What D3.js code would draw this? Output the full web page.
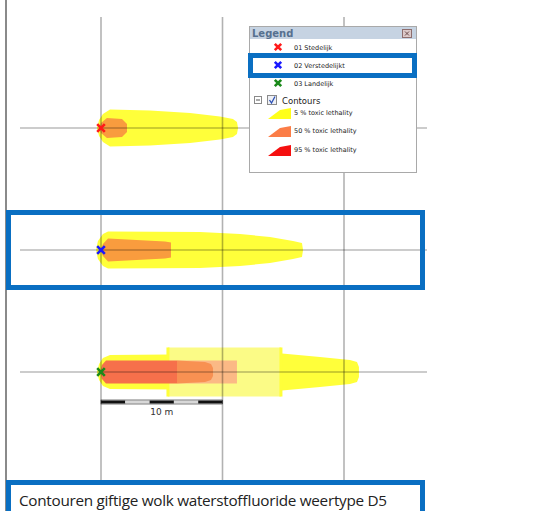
<!DOCTYPE html>
<html><head><meta charset="utf-8">
<script src="https://cdn.jsdelivr.net/npm/d3@7"></script>
<style>
html,body{margin:0;padding:0;background:#fff;}
svg{display:block;}
</style></head>
<body>
<svg id="c" width="555" height="511"></svg>
<script>
// ---------------- DATA ----------------
const categories = ["01 Stedelijk", "02 Verstedelijkt", "03 Landelijk"];
const levels = ["5 % toxic lethality", "50 % toxic lethality", "95 % toxic lethality"];
const gridDistances = [0, 10, 20];              // m
const scaleBarStops = [0, 2, 4, 6, 8, 10];       // m
const scaleBarLabel = "10 m";
const legendTitle = "Legend";
const contoursLabel = "Contours";
const caption = "Contouren giftige wolk waterstoffluoride weertype D5";

// contour profiles: [distance downwind (m), half width (m)]
const stedelijk5  = [[-0.33,0],[-0.16,0.66],[0.16,1.15],[0.74,1.52],[4.03,1.44],[7.33,1.23],[9.79,0.95],[10.86,0.74],[11.19,0.49],[11.28,0]];
const stedelijk50 = [[-0.12,0],[0,0.41],[0.49,0.82],[1.73,0.74],[2.14,0.33],[2.14,0]];
const verst5  = [[-0.41,0],[-0.25,0.74],[0.16,1.32],[0.58,1.52],[8.15,1.48],[11.44,1.32],[13.91,1.07],[15.8,0.74],[16.54,0.58],[16.63,0]];
const verst50 = [[-0.04,0],[0.16,0.49],[0.58,0.95],[5.27,0.70],[5.76,0.62],[5.76,0]];
const land5    = [[-0.33,0],[-0.16,0.66],[0.16,1.15],[0.74,1.40],[5.68,1.44],[14.9,1.52],[18.02,1.23],[20.49,0.99],[21.07,0.82],[21.23,0.41],[21.23,0]];
const land5b   = [[5.51,2.02],[14.81,2.02]];
const land95   = [[-0.04,0],[0.08,0.58],[0.41,0.95],[6.26,0.95],[6.26,0]];
const land50b  = [[6.26,0.95],[11.19,0.95]];
const land50   = [[6.26,0.95],[8.56,0.82],[9.05,0.66],[9.22,0.33],[9.22,0]];

// ---------------- STYLE ----------------
const markerColors = ["#ff1a1a", "#1a1aff", "#1a8a1a"];
const levelColors = ["#ffff1a", "#fb7d47", "#f50f0f"];

const svg = d3.select("#c");
const x = d3.scaleLinear().domain([0, 20]).range([101, 344]);
const w = d3.scaleLinear().domain([0, 10]).range([0, 121.5]);
const y = d3.scalePoint().domain(categories).range([128, 372]);

function profilePath(pts, cy) {
  const top = pts.map(p => [x(p[0]), cy - w(p[1])]);
  const bot = pts.slice().reverse().map(p => [x(p[0]), cy + w(p[1])]);
  return d3.line()(top.concat(bot)) + "Z";
}
function rectPath(pts, cy) {
  const x0 = x(pts[0][0]), x1 = x(pts[1][0]), h = w(pts[0][1]);
  return `M${x0},${cy-h}H${x1}V${cy+h}H${x0}Z`;
}

const shapes = svg.append("g");
// row 1
shapes.append("path").attr("d", profilePath(stedelijk5, y(categories[0]))).attr("fill", "#ffff3a");
shapes.append("path").attr("d", profilePath(stedelijk50, y(categories[0]))).attr("fill", "#f99c3e");
// row 2
shapes.append("path").attr("d", profilePath(verst5, y(categories[1]))).attr("fill", "#ffff3a");
shapes.append("path").attr("d", profilePath(verst50, y(categories[1]))).attr("fill", "#f99c3e");
// row 3
const cy3 = y(categories[2]);
shapes.append("path").attr("d", profilePath(land5, cy3)).attr("fill", "#ffff3a");
shapes.append("path").attr("d", rectPath(land5b, cy3)).attr("fill", "#fbfb86");
[land5b[0][0], land5b[1][0]].forEach(d => {
  shapes.append("line").attr("x1", x(d)).attr("x2", x(d))
    .attr("y1", cy3 - w(land5b[0][1])).attr("y2", cy3 + w(land5b[0][1]))
    .attr("stroke", "#ffff3a").attr("stroke-width", 3);
});
shapes.append("path").attr("d", rectPath(land50b, cy3)).attr("fill", "#fbb985");
shapes.append("path").attr("d", profilePath(land50, cy3)).attr("fill", "#f89152");
shapes.append("path").attr("d", profilePath(land95, cy3)).attr("fill", "#f6704b");

// grid
const grid = svg.append("g");
gridDistances.forEach(d => {
  grid.append("line").attr("x1", x(d)).attr("x2", x(d)).attr("y1", 17).attr("y2", 511)
    .attr("stroke", "rgba(0,0,0,0.3)").attr("stroke-width", 1.6);
});
categories.forEach(c => {
  grid.append("line").attr("x1", 20).attr("x2", 427).attr("y1", y(c)).attr("y2", y(c))
    .attr("stroke", "rgba(0,0,0,0.4)").attr("stroke-width", 1.2);
});
// left frame line
svg.append("line").attr("x1", 6).attr("x2", 6).attr("y1", 0).attr("y2", 511)
  .attr("stroke", "#8a8a8a").attr("stroke-width", 2);

// markers
function cross(g, cx, cy, col, s) {
  g.append("path").attr("d", `M${cx-s},${cy-s}L${cx+s},${cy+s}M${cx-s},${cy+s}L${cx+s},${cy-s}`)
    .attr("stroke", col).attr("stroke-width", 2.6).attr("fill", "none");
}
categories.forEach((c, i) => cross(svg, x(0), y(c), markerColors[i], 3.8));

// scale bar
const sb = svg.append("g");
const sbY = 402;
d3.pairs(scaleBarStops).forEach((p, i) => {
  sb.append("rect").attr("x", x(p[0])).attr("y", sbY - 1.5).attr("width", x(p[1]) - x(p[0])).attr("height", 3)
    .attr("fill", i % 2 === 0 ? "#111" : "#d8d8d8");
});
sb.append("rect").attr("x", x(0)).attr("y", sbY - 2).attr("width", x(10) - x(0)).attr("height", 4)
  .attr("fill", "none").attr("stroke", "#222").attr("stroke-width", 0.6);
sb.append("text").attr("x", (x(0) + x(10)) / 2).attr("y", 415).attr("text-anchor", "middle")
  .attr("font-family", "DejaVu Sans").attr("font-size", 9).attr("fill", "#333").text(scaleBarLabel);

// legend
const lg = svg.append("g");
lg.append("rect").attr("x", 249.5).attr("y", 26.5).attr("width", 167).attr("height", 146)
  .attr("fill", "#fff").attr("stroke", "#a9a9a9").attr("stroke-width", 1);
lg.append("rect").attr("x", 250).attr("y", 27).attr("width", 166).attr("height", 12).attr("fill", "#c6d3e2");
lg.append("text").attr("x", 252).attr("y", 37).attr("font-family", "DejaVu Sans").attr("font-weight", "bold")
  .attr("font-size", 10).attr("fill", "#56708f").text(legendTitle);
lg.append("rect").attr("x", 402.5).attr("y", 29.5).attr("width", 9).attr("height", 8)
  .attr("fill", "#dccaca").attr("stroke", "#8e6e6e");
lg.append("path").attr("d", "M405,31.5L409,35.5M405,35.5L409,31.5").attr("stroke", "#6b4b4b").attr("stroke-width", 1);
const itemYs = [47, 65, 83];
categories.forEach((c, i) => {
  cross(lg, 278, itemYs[i], markerColors[i], 3.2);
  lg.append("text").attr("x", 294).attr("y", itemYs[i] + 2.5).attr("font-family", "DejaVu Sans")
    .attr("font-size", 6.5).attr("fill", "#222").text(c);
});
// contours group header
lg.append("rect").attr("x", 254.5).attr("y", 96.5).attr("width", 7).attr("height", 7).attr("fill", "#fff").attr("stroke", "#8a8a8a");
lg.append("line").attr("x1", 256).attr("x2", 260).attr("y1", 100).attr("y2", 100).attr("stroke", "#555");
lg.append("rect").attr("x", 267.5).attr("y", 95.5).attr("width", 9).attr("height", 9).attr("fill", "#eef0f5").attr("stroke", "#8a8a8a");
lg.append("path").attr("d", "M269.5,100L271.5,103L275,96.5").attr("stroke", "#2a4fb5").attr("stroke-width", 1.3).attr("fill", "none");
lg.append("text").attr("x", 282).attr("y", 103.5).attr("font-family", "DejaVu Sans").attr("font-size", 8.5)
  .attr("fill", "#222").text(contoursLabel);
const levelYs = [113, 131, 150];
levels.forEach((l, i) => {
  const yy = levelYs[i];
  lg.append("path").attr("d", `M268,${yy+6}L291,${yy+6}L291,${yy-5}L280,${yy-3}Z`).attr("fill", levelColors[i]);
  lg.append("text").attr("x", 294).attr("y", yy + 2).attr("font-family", "DejaVu Sans")
    .attr("font-size", 6.5).attr("fill", "#222").text(l);
});

// caption
svg.append("rect").attr("x", 8.5).attr("y", 482.5).attr("width", 414).attr("height", 40)
  .attr("fill", "#fff").attr("stroke", "#0a6fc2").attr("stroke-width", 5);
svg.append("text").attr("x", 19).attr("y", 506).attr("font-family", "Open Sans").attr("font-size", 15.3)
  .attr("textLength", 368).attr("lengthAdjust", "spacing")
  .attr("fill", "#222").text(caption);

// highlight boxes
svg.append("rect").attr("x", 8.5).attr("y", 212.5).attr("width", 414).attr("height", 75)
  .attr("fill", "none").attr("stroke", "#0a6fc2").attr("stroke-width", 5);
svg.append("rect").attr("x", 250.5).attr("y", 55.5).attr("width", 164).attr("height", 20)
  .attr("fill", "none").attr("stroke", "#0a6fc2").attr("stroke-width", 5);
</script>
</body></html>
